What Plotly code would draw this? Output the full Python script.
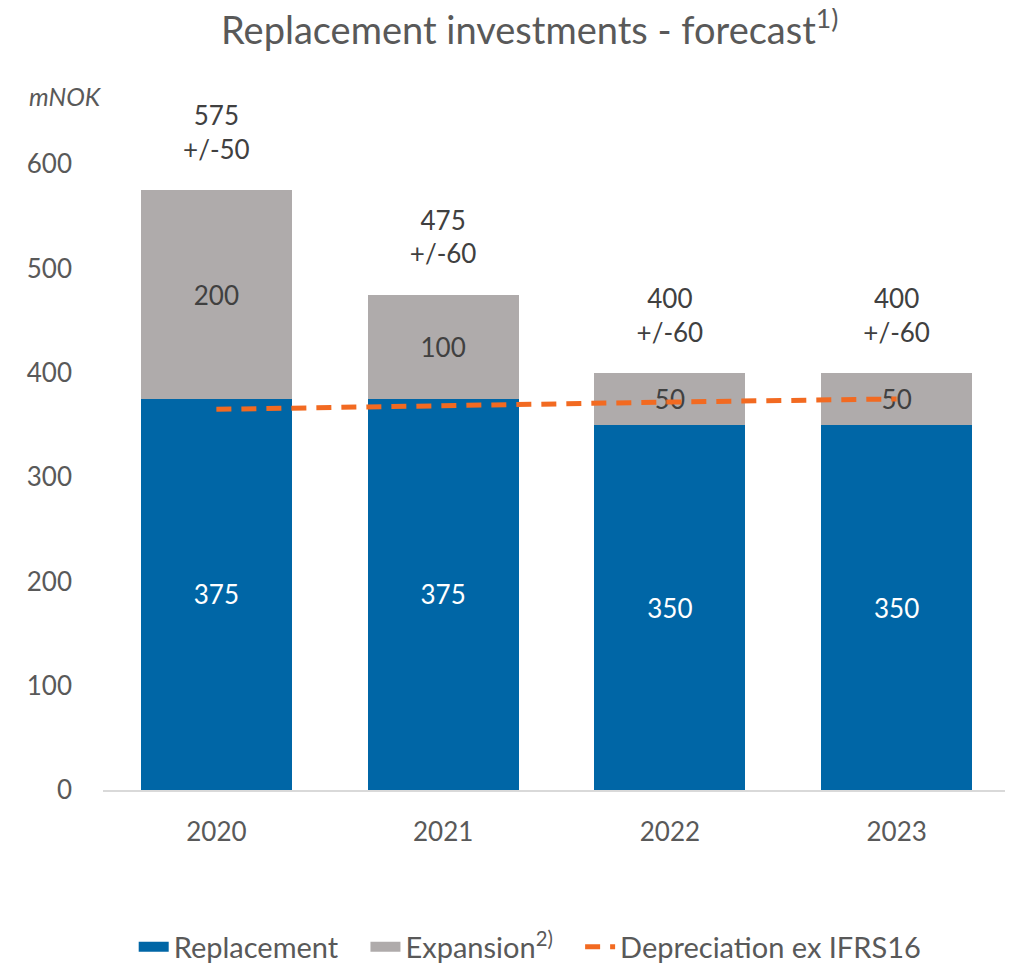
import plotly.graph_objects as go

YEARS = ["2020", "2021", "2022", "2023"]
REPLACEMENT = [375, 375, 350, 350]
EXPANSION = [200, 100, 50, 50]
DEPRECIATION = [365, 369, 372, 375]
TOTALS = [575, 475, 400, 400]
RANGES = ["+/-50", "+/-60", "+/-60", "+/-60"]

FONT = "Lato"
GREY_TXT = "#595959"
BLUE = "#0066A6"
GREY = "#AFABAB"
ORANGE = "#F26A21"

fig = go.Figure()

fig.add_trace(go.Bar(
    x=YEARS, y=REPLACEMENT, name="Replacement", showlegend=False,
    marker=dict(color=BLUE, line=dict(width=0)),
    text=[str(v) for v in REPLACEMENT], textposition="inside",
    insidetextanchor="middle",
    textfont=dict(color="white", size=26, family=FONT),
))
fig.add_trace(go.Bar(
    x=YEARS, y=EXPANSION, name="Expansion<sup>2)</sup>", showlegend=False,
    marker=dict(color=GREY, line=dict(width=0)),
    text=[str(v) for v in EXPANSION], textposition="inside",
    insidetextanchor="middle",
    textfont=dict(color="#404040", size=26, family=FONT),
))
fig.add_trace(go.Scatter(
    x=YEARS, y=DEPRECIATION, name="Depreciation ex IFRS16", showlegend=False,
    mode="lines", line=dict(color=ORANGE, width=5, dash="15px,10px"),
))

# totals above each bar (invisible marker keeps a gap to the bar top)
fig.add_trace(go.Scatter(
    x=YEARS, y=TOTALS, mode="markers+text", showlegend=False,
    marker=dict(size=38, opacity=0),
    text=[f"{t}<br>{r}" for t, r in zip(TOTALS, RANGES)],
    textposition="top center", cliponaxis=False,
    textfont=dict(size=26, color="#404040", family=FONT),
    hoverinfo="skip",
))

# legend entries drawn as wide blocks like the original
SP = "&nbsp;" * 3
for nm, col, w, d in [("Replacement" + SP, BLUE, 15, "solid"),
                      ("Expansion<sup>2)</sup>" + SP, GREY, 15, "solid"),
                      ("Depreciation ex IFRS16", ORANGE, 5, "15px,10px")]:
    fig.add_trace(go.Scatter(
        x=[None], y=[None], name=nm, mode="lines",
        line=dict(color=col, width=w, dash=d),
    ))

fig.add_annotation(
    xref="paper", yref="paper", x=-0.084, y=0.951, xanchor="left",
    yanchor="middle", text="<i>mNOK</i>", showarrow=False,
    font=dict(size=25, color=GREY_TXT, family=FONT),
)

fig.update_layout(
    width=1013, height=963,
    barmode="stack", bargap=0.335,
    paper_bgcolor="white", plot_bgcolor="white",
    margin=dict(l=95, r=11, t=52, b=181),
    font=dict(family=FONT, color=GREY_TXT),
    title=dict(
        text="Replacement investments - forecast<sup>1)</sup>",
        x=0.515, xanchor="center", y=0.976, yanchor="middle",
        font=dict(size=38, color=GREY_TXT, family=FONT),
    ),
    showlegend=True,
    legend=dict(
        orientation="h", x=0.471, xanchor="center",
        yref="container", y=0.025, yanchor="middle",
        font=dict(size=29, color=GREY_TXT, family=FONT),
        traceorder="normal",
    ),
)

fig.update_yaxes(
    range=[0, 700], tickvals=[0, 100, 200, 300, 400, 500, 600],
    showgrid=False, zeroline=False, showline=False, automargin=False,
    tickfont=dict(size=26, color=GREY_TXT, family=FONT),
    ticks="", ticklabelstandoff=30,
)
fig.update_xaxes(
    type="category", categoryorder="array", categoryarray=YEARS,
    range=[-0.5, len(YEARS) - 0.5], automargin=False,
    showgrid=False, showline=True, linecolor="#D9D9D9", linewidth=2,
    tickfont=dict(size=26, color=GREY_TXT, family=FONT),
    ticks="", ticklabelstandoff=18,
)

fig.write_html("out.html")
